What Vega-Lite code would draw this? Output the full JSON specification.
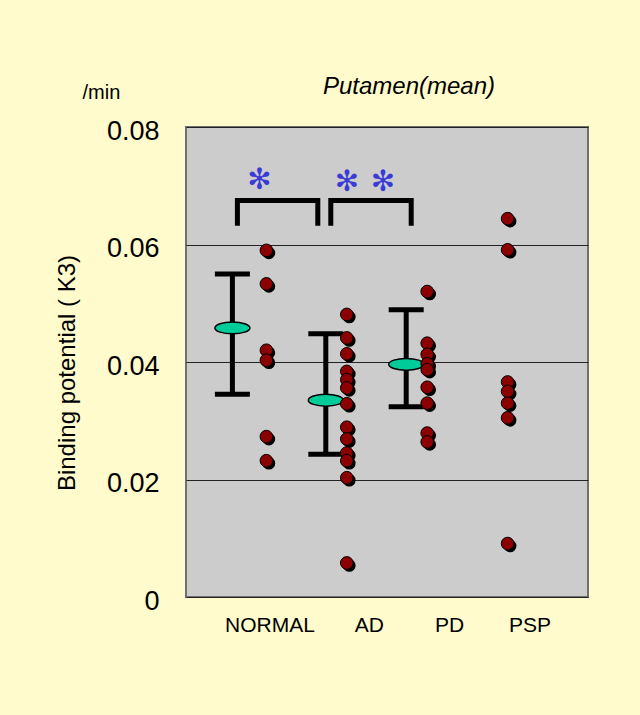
{
  "$schema": "https://vega.github.io/schema/vega-lite/v6.json",
  "width": 402,
  "height": 470,
  "autosize": {"type": "none"},
  "padding": {"left": 186, "top": 127, "right": 52, "bottom": 118},
  "background": "#FFFBCC",
  "config": {
    "font": "Liberation Sans",
    "view": {"fill": "#CCCCCC", "stroke": "#707070", "strokeWidth": 2}
  },
  "datasets": {
    "points": [
      {"group": "NORMAL", "bp": 0.0590}, {"group": "NORMAL", "bp": 0.0533}, {"group": "NORMAL", "bp": 0.0420},
      {"group": "NORMAL", "bp": 0.0403}, {"group": "NORMAL", "bp": 0.0273}, {"group": "NORMAL", "bp": 0.0232},
      {"group": "AD", "bp": 0.0481}, {"group": "AD", "bp": 0.0441}, {"group": "AD", "bp": 0.0414},
      {"group": "AD", "bp": 0.0384}, {"group": "AD", "bp": 0.0370}, {"group": "AD", "bp": 0.0356},
      {"group": "AD", "bp": 0.0329}, {"group": "AD", "bp": 0.0289}, {"group": "AD", "bp": 0.0269},
      {"group": "AD", "bp": 0.0245}, {"group": "AD", "bp": 0.0232}, {"group": "AD", "bp": 0.0203},
      {"group": "AD", "bp": 0.0058},
      {"group": "PD", "bp": 0.0520}, {"group": "PD", "bp": 0.0432}, {"group": "PD", "bp": 0.0413},
      {"group": "PD", "bp": 0.0397}, {"group": "PD", "bp": 0.0387}, {"group": "PD", "bp": 0.0357},
      {"group": "PD", "bp": 0.0330}, {"group": "PD", "bp": 0.0279}, {"group": "PD", "bp": 0.0264},
      {"group": "PSP", "bp": 0.0644}, {"group": "PSP", "bp": 0.0591}, {"group": "PSP", "bp": 0.0366},
      {"group": "PSP", "bp": 0.0350}, {"group": "PSP", "bp": 0.0330}, {"group": "PSP", "bp": 0.0305},
      {"group": "PSP", "bp": 0.0091}
    ],
    "stats": [
      {"group": "NORMAL", "mean": 0.0458, "lo": 0.0345, "hi": 0.0550},
      {"group": "AD", "mean": 0.0335, "lo": 0.0243, "hi": 0.0448},
      {"group": "PD", "mean": 0.0396, "lo": 0.0324, "hi": 0.0489}
    ],
    "bracket1": [
      {"group": "NORMAL", "bp": 0.0632, "o": 1}, {"group": "NORMAL", "bp": 0.0675, "o": 2},
      {"group": "AD", "bp": 0.0675, "o": 3}, {"group": "AD", "bp": 0.0632, "o": 4}
    ],
    "bracket2": [
      {"group": "AD", "bp": 0.0632, "o": 1}, {"group": "AD", "bp": 0.0675, "o": 2},
      {"group": "PD", "bp": 0.0675, "o": 3}, {"group": "PD", "bp": 0.0632, "o": 4}
    ]
  },
  "resolve": {"axis": {"x": "independent", "y": "independent"}},
  "layer": [
    {
      "data": {"name": "stats"},
      "mark": {"type": "rule", "strokeWidth": 5, "color": "black", "xOffset": {"expr": "datum.group === 'NORMAL' ? -34 : -21"}},
      "encoding": {
        "x": {
          "field": "group", "type": "nominal",
          "scale": {"type": "point", "domain": ["NORMAL", "AD", "PD", "PSP"], "padding": 1},
          "axis": {
            "orient": "bottom", "title": null, "domain": false, "ticks": false, "tickSize": 0, "grid": false,
            "labelAngle": 0, "labelFontSize": 21, "labelColor": "black",
            "labelOffset": {"condition": {"test": "datum.value === 'NORMAL'", "value": 3}, "value": 22},
            "labelPadding": 34, "labelBaseline": "alphabetic", "labelAlign": "center"
          }
        },
        "y": {
          "field": "lo", "type": "quantitative",
          "scale": {"domain": [0, 0.08], "nice": false},
          "axis": {
            "orient": "left", "values": [0, 0.02, 0.04, 0.06, 0.08], "format": "~g",
            "domain": false, "ticks": false, "tickSize": 0, "grid": true, "gridColor": "#222222", "gridWidth": 1, "gridOpacity": 1,
            "labelFontSize": 27, "labelColor": "black", "labelPadding": 27, "labelOffset": 4, "labelBaseline": "middle",
            "title": "Binding potential ( K3)", "titleFontSize": 24, "titleFontWeight": "normal", "titleColor": "black",
            "titleAngle": -90, "titleX": -112, "titleY": 245.5, "titleAlign": "center", "titleBaseline": "alphabetic"
          }
        },
        "y2": {"field": "hi"}
      }
    },
    {
      "data": {"name": "stats"},
      "transform": [{"fold": ["lo", "hi"], "as": ["k", "v"]}],
      "mark": {"type": "tick", "size": 35, "thickness": 5, "color": "black", "opacity": 1, "xOffset": {"expr": "datum.group === 'NORMAL' ? -34 : -21"}},
      "encoding": {
        "x": {"field": "group", "type": "nominal", "axis": null},
        "y": {"field": "v", "type": "quantitative", "axis": null}
      }
    },
    {
      "data": {"name": "stats"},
      "mark": {
        "type": "point", "filled": true, "shape": "M -1 0 A 1 0.34 0 1 0 1 0 A 1 0.34 0 1 0 -1 0 Z",
        "size": 1225, "fill": "#00CC99", "stroke": "black", "strokeWidth": 1.5, "opacity": 1,
        "xOffset": {"expr": "datum.group === 'NORMAL' ? -34 : -21"}
      },
      "encoding": {
        "x": {"field": "group", "type": "nominal", "axis": null},
        "y": {"field": "mean", "type": "quantitative", "axis": null}
      }
    },
    {
      "data": {"name": "points"},
      "mark": {"type": "circle", "size": 160, "color": "black", "opacity": 1, "xOffset": 2.5, "yOffset": 2.5},
      "encoding": {
        "x": {"field": "group", "type": "nominal", "axis": null},
        "y": {"field": "bp", "type": "quantitative", "axis": null}
      }
    },
    {
      "data": {"name": "points"},
      "mark": {"type": "circle", "size": 160, "fill": "#8B0000", "stroke": "black", "strokeWidth": 1, "opacity": 1},
      "encoding": {
        "x": {
          "field": "group", "type": "nominal",
          "axis": {
            "orient": "top", "labels": false, "domain": false, "ticks": false, "grid": false,
            "title": "Putamen(mean)", "titleFontSize": 24, "titleFontStyle": "italic", "titleFontWeight": "normal",
            "titleColor": "black", "titleX": 222.5, "titleY": -34, "titleAlign": "center", "titleBaseline": "alphabetic"
          }
        },
        "y": {
          "field": "bp", "type": "quantitative",
          "axis": {
            "orient": "left", "labels": false, "domain": false, "ticks": false, "grid": false,
            "title": "/min", "titleFontSize": 20, "titleFontWeight": "normal", "titleColor": "black", "titleAngle": 0,
            "titleX": -104, "titleY": -29, "titleAlign": "left", "titleBaseline": "alphabetic"
          }
        }
      }
    },
    {
      "data": {"name": "bracket1"},
      "mark": {"type": "line", "color": "black", "strokeWidth": 5, "strokeJoin": "miter", "strokeCap": "butt", "xOffset": -29},
      "encoding": {
        "x": {"field": "group", "type": "nominal", "axis": null},
        "y": {"field": "bp", "type": "quantitative", "axis": null},
        "order": {"field": "o", "type": "quantitative"}
      }
    },
    {
      "data": {"name": "bracket2"},
      "mark": {"type": "line", "color": "black", "strokeWidth": 5, "strokeJoin": "miter", "strokeCap": "butt", "xOffset": -16},
      "encoding": {
        "x": {"field": "group", "type": "nominal", "axis": null},
        "y": {"field": "bp", "type": "quantitative", "axis": null},
        "order": {"field": "o", "type": "quantitative"}
      }
    },
    {
      "data": {"values": [{"group": "NORMAL", "bp": 0.0709, "label": "✻"}]},
      "mark": {"type": "text", "font": "DejaVu Sans", "fontSize": 29, "color": "#3A3AD6", "baseline": "middle", "align": "center", "dx": -7},
      "encoding": {
        "x": {"field": "group", "type": "nominal", "axis": null},
        "y": {"field": "bp", "type": "quantitative", "axis": null},
        "text": {"field": "label"}
      }
    },
    {
      "data": {"values": [{"group": "AD", "bp": 0.0707, "label": "✻"}]},
      "mark": {"type": "text", "font": "DejaVu Sans", "fontSize": 29, "color": "#3A3AD6", "baseline": "middle", "align": "center", "dx": 0},
      "encoding": {
        "x": {"field": "group", "type": "nominal", "axis": null},
        "y": {"field": "bp", "type": "quantitative", "axis": null},
        "text": {"field": "label"}
      }
    },
    {
      "data": {"values": [{"group": "AD", "bp": 0.0707, "label": "✻"}]},
      "mark": {"type": "text", "font": "DejaVu Sans", "fontSize": 29, "color": "#3A3AD6", "baseline": "middle", "align": "center", "dx": 36},
      "encoding": {
        "x": {"field": "group", "type": "nominal", "axis": null},
        "y": {"field": "bp", "type": "quantitative", "axis": null},
        "text": {"field": "label"}
      }
    }
  ]
}
